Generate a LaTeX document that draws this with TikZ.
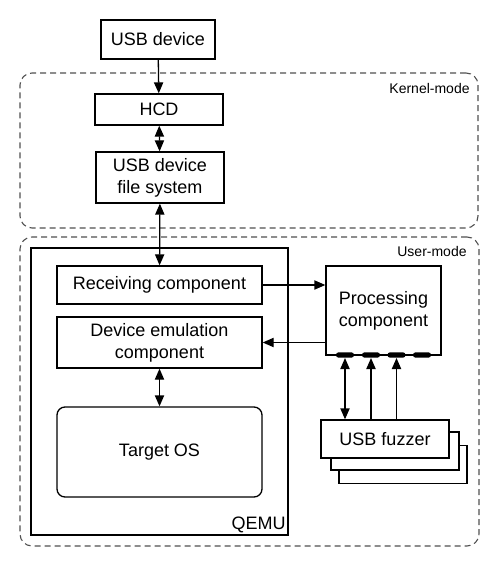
\documentclass[tikz,border=0pt]{standalone}
\usepackage{fontspec}
\setmainfont{Liberation Sans}
\usepackage{xcolor}
\usetikzlibrary{arrows.meta,fit}
\definecolor{regionline}{RGB}{80,80,80}

\begin{document}
\begin{tikzpicture}
[
    x=0.5pt,y=-0.5pt,
    mybox/.style={rectangle,draw=black,fill=white,line width=0.65pt,align=center,inner sep=0pt,font=\fontsize{9}{11}\selectfont},
    comp/.style={mybox,minimum width=102.5pt},
    fuzzbox/.style={mybox,minimum width=64pt,minimum height=19pt},
    region/.style={draw=regionline,dash pattern=on 3pt off 2pt,rounded corners=6pt,line width=0.55pt,inner sep=0pt},
    modelabel/.style={anchor=east,inner sep=0pt,font=\fontsize{7}{8}\selectfont},
    port/.style={rectangle,fill=black,rounded corners=1.2pt,minimum width=9pt,minimum height=2.6pt,inner sep=0pt},
    link/.style={line width=0.65pt,-{Triangle[length=5.5pt,width=4.6pt]}},
    bilink/.style={line width=0.65pt,{Triangle[length=5.5pt,width=4.6pt]}-{Triangle[length=5.5pt,width=4.6pt]}}
]
\useasboundingbox (0,0) rectangle (503,571);

\node [region,fit={(20,73) (478,228)}] (kernel) {};
\node [region,fit={(20,237) (479,546)}] (user) {};
\node at (470,88) [modelabel] (kernellabel) {Kernel-mode};
\node at (467,251) [modelabel] (userlabel) {User-mode};

\node [draw=black,line width=0.65pt,inner sep=0pt,fit={(31,248) (288,535)}] (qemu) {};
\node at (286,525) [modelabel,font=\fontsize{9}{11}\selectfont] (qemulabel) {QEMU};

\node at (158,39.5) [mybox,minimum width=57pt,minimum height=19.5pt] (usbdev) {USB device};
\node at (159,109.5) [mybox,minimum width=64pt,minimum height=15.5pt] (hcd) {HCD};
\node at (160,177.5) [mybox,minimum width=64pt,minimum height=25.5pt] (usbfs) {USB device\\file system};

\node at (159.5,285) [comp,minimum height=19pt] (recv) {Receiving component};
\node at (159.5,342.5) [comp,minimum height=25.5pt] (emu) {Device emulation\\component};
\node at (159.5,452) [comp,minimum height=45pt,rounded corners=4pt] (os) {Target OS};

\node at (383.5,310.5) [mybox,minimum width=57.5pt,minimum height=44.5pt] (proc) {Processing\\component};
\node at (345,355) [port] (p1) {};
\node at (371,355) [port] (p2) {};
\node at (396.5,355) [port] (p3) {};
\node at (422,355) [port] (p4) {};

\node at (403,464.5) [fuzzbox] (fuzz3) {};
\node at (395,451) [fuzzbox] (fuzz2) {};
\node at (385,439) [fuzzbox] (fuzz) {USB fuzzer};

% Verbindungen
\draw [link] (usbdev) -- (hcd);
\draw [bilink] (hcd) -- (usbfs);
\draw [bilink] (usbfs) -- (recv);
\draw [link] (recv.east) -- (recv.east -| proc.west);
\draw [link] (emu.east -| proc.west) -- (emu.east);
\draw [bilink] (emu) -- (os);
\draw [bilink] (p1.south |- fuzz.north) -- (p1.south);
\draw [link] (p2.south |- fuzz.north) -- (p2.south);
\draw [link] (p3.south |- fuzz.north) -- (p3.south);

\end{tikzpicture}
\end{document}
